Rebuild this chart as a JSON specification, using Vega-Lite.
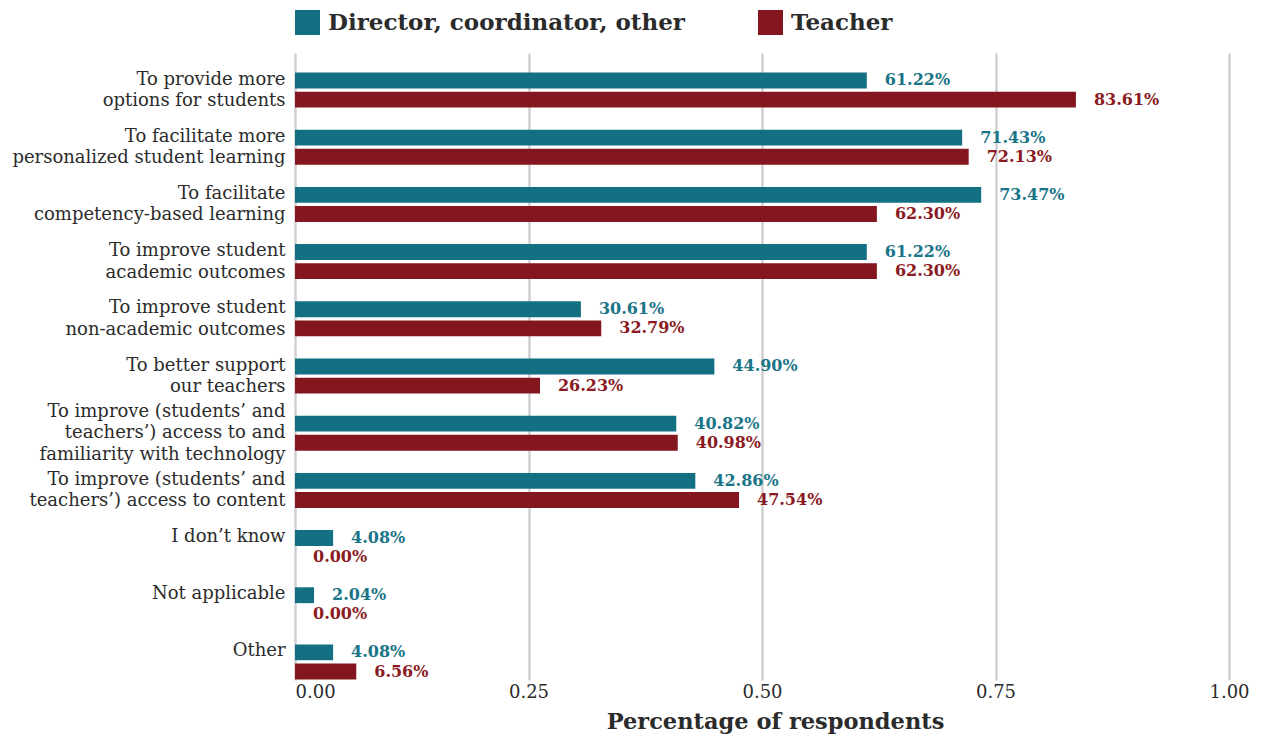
{
  "$schema": "https://vega.github.io/schema/vega-lite/v6.json",
  "autosize": {"type": "none"},
  "padding": {"left": 295, "top": 53, "right": 32, "bottom": 57},
  "width": 934,
  "height": 627,
  "background": "white",
  "config": {"view": {"stroke": null}},
  "data": {
    "values": [
      {"reason": "To provide more\noptions for students", "series": "Director, coordinator, other", "value": 0.6122},
      {"reason": "To provide more\noptions for students", "series": "Teacher", "value": 0.8361},
      {"reason": "To facilitate more\npersonalized student learning", "series": "Director, coordinator, other", "value": 0.7143},
      {"reason": "To facilitate more\npersonalized student learning", "series": "Teacher", "value": 0.7213},
      {"reason": "To  facilitate\ncompetency-based learning", "series": "Director, coordinator, other", "value": 0.7347},
      {"reason": "To  facilitate\ncompetency-based learning", "series": "Teacher", "value": 0.6230},
      {"reason": "To improve student\nacademic outcomes", "series": "Director, coordinator, other", "value": 0.6122},
      {"reason": "To improve student\nacademic outcomes", "series": "Teacher", "value": 0.6230},
      {"reason": "To improve student\nnon-academic outcomes", "series": "Director, coordinator, other", "value": 0.3061},
      {"reason": "To improve student\nnon-academic outcomes", "series": "Teacher", "value": 0.3279},
      {"reason": "To better support\nour teachers", "series": "Director, coordinator, other", "value": 0.4490},
      {"reason": "To better support\nour teachers", "series": "Teacher", "value": 0.2623},
      {"reason": "To improve (students’ and\nteachers’) access to and\nfamiliarity with technology", "series": "Director, coordinator, other", "value": 0.4082},
      {"reason": "To improve (students’ and\nteachers’) access to and\nfamiliarity with technology", "series": "Teacher", "value": 0.4098},
      {"reason": "To improve (students’ and\nteachers’) access to content", "series": "Director, coordinator, other", "value": 0.4286},
      {"reason": "To improve (students’ and\nteachers’) access to content", "series": "Teacher", "value": 0.4754},
      {"reason": "I don’t know", "series": "Director, coordinator, other", "value": 0.0408},
      {"reason": "I don’t know", "series": "Teacher", "value": 0.0},
      {"reason": "Not applicable", "series": "Director, coordinator, other", "value": 0.0204},
      {"reason": "Not applicable", "series": "Teacher", "value": 0.0},
      {"reason": "Other", "series": "Director, coordinator, other", "value": 0.0408},
      {"reason": "Other", "series": "Teacher", "value": 0.0656}
    ]
  },
  "encoding": {
    "y": {
      "field": "reason",
      "type": "nominal",
      "sort": null,
      "scale": {"paddingInner": 0.388, "paddingOuter": 0.175, "align": 0.975},
      "axis": {
        "title": null,
        "labelExpr": "split(datum.label, '\\n')",
        "labelFont": "DejaVu Serif",
        "labelFontSize": 18,
        "labelColor": "#2b2b2b",
        "labelLineHeight": 21.5,
        "labelPadding": 10,
        "labelLimit": 400,
        "labelOffset": {
          "condition": {"test": "length(split(datum.label, '\\n')) === 3", "value": -21.5},
          "value": -10.5
        },
        "ticks": false,
        "domain": false,
        "grid": false
      }
    },
    "yOffset": {
      "field": "series",
      "type": "nominal",
      "scale": {"paddingInner": 0.17, "paddingOuter": 0}
    },
    "x": {
      "field": "value",
      "type": "quantitative",
      "scale": {"domain": [0, 1], "nice": false},
      "axis": {
        "title": "Percentage of respondents",
        "titleFont": "DejaVu Serif",
        "titleFontSize": 22.5,
        "titleFontWeight": "bold",
        "titleColor": "#2b2b2b",
        "titlePadding": 9,
        "titleX": 480,
        "titleAnchor": "middle",
        "values": [0, 0.25, 0.5, 0.75, 1],
        "format": ".2f",
        "labelFont": "DejaVu Serif",
        "labelFontSize": 18,
        "labelColor": "#2b2b2b",
        "labelPadding": 3,
        "labelFlush": false,
        "labelAlign": {"condition": {"test": "datum.value === 0", "value": "left"}, "value": "center"},
        "ticks": false,
        "domain": false,
        "grid": true,
        "gridColor": "#d0d0d3",
        "gridWidth": 2.5
      }
    }
  },
  "layer": [
    {
      "mark": {"type": "bar"},
      "encoding": {
        "color": {
          "field": "series",
          "type": "nominal",
          "scale": {"domain": ["Director, coordinator, other", "Teacher"], "range": ["#136f82", "#83161e"]},
          "legend": {
            "title": null,
            "orient": "top",
            "direction": "horizontal",
            "offset": 18,
            "symbolType": "square",
            "symbolSize": 625,
            "symbolStrokeWidth": 0,
            "symbolOpacity": 1,
            "labelFont": "DejaVu Serif",
            "labelFontSize": 23,
            "labelFontWeight": "bold",
            "labelColor": "#2b2b2b",
            "labelOffset": 8,
            "labelLimit": 500,
            "columnPadding": 73
          }
        }
      }
    },
    {
      "mark": {"type": "text", "align": "left", "baseline": "middle", "dx": 18, "font": "DejaVu Serif", "fontSize": 16, "fontWeight": "bold"},
      "encoding": {
        "text": {"field": "value", "type": "quantitative", "format": ".2%"},
        "color": {
          "condition": {"test": "datum.series === 'Teacher'", "value": "#8a1b23"},
          "value": "#1a7587"
        }
      }
    }
  ]
}
